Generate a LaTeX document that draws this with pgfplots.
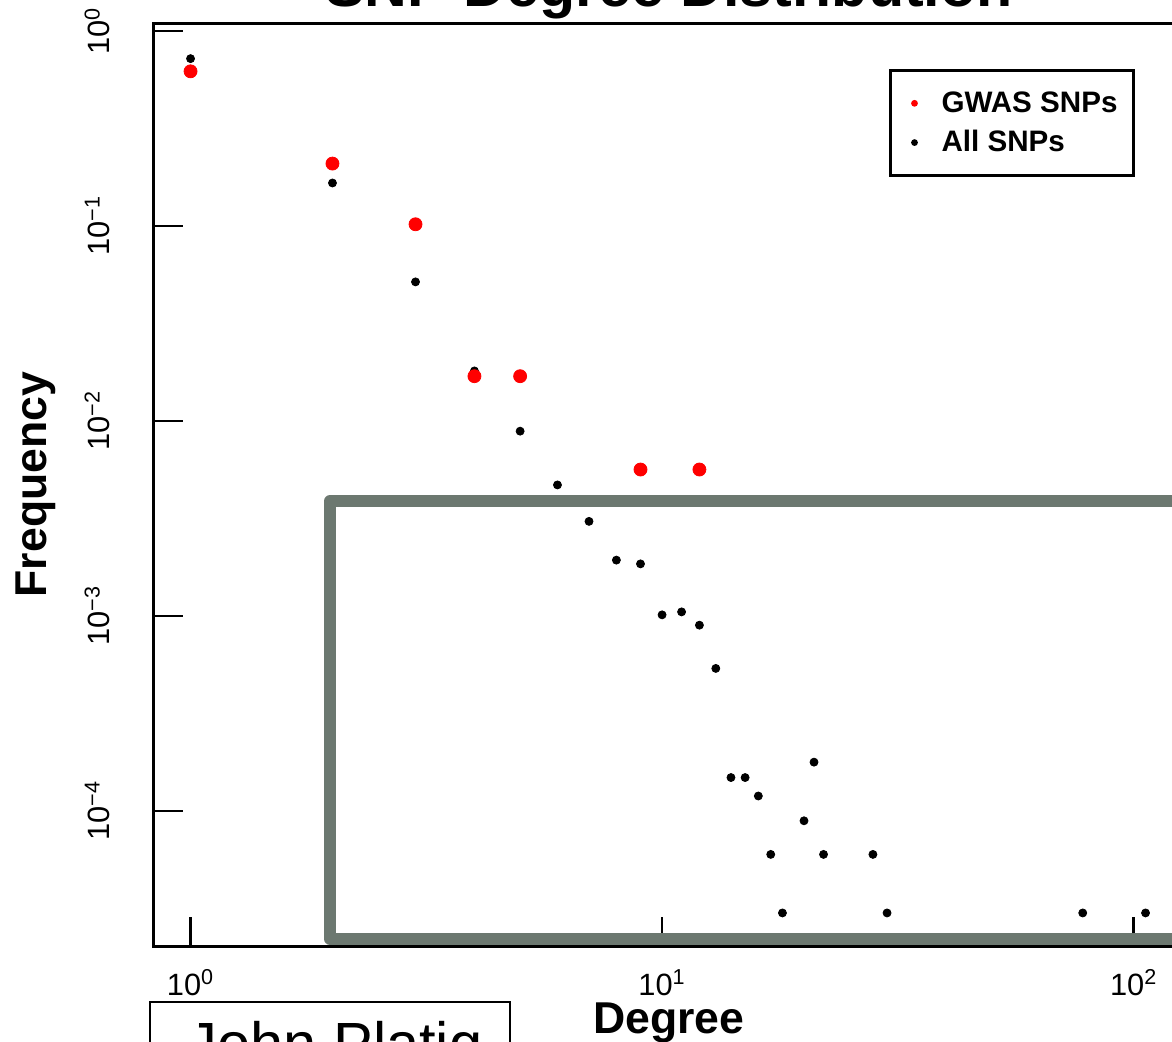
\documentclass[border=0pt]{standalone}
\usepackage{fontspec}
\setmainfont{Liberation Sans}
\usepackage{pgfplots}
\pgfplotsset{compat=1.18}
\definecolor{rectgray}{RGB}{108,120,112}
\newcommand{\tickfont}{\fontsize{15.4}{18}\selectfont}
\newcommand{\labfont}{\fontsize{22.3}{26}\selectfont\bfseries}
\newcommand{\titfont}{\fontsize{29.6}{34}\selectfont\bfseries}
\newcommand{\legfont}{\fontsize{14.8}{17}\selectfont\bfseries}
\begin{document}
\begin{tikzpicture}
\useasboundingbox (0pt,0pt) rectangle (586pt,520.5pt);
\clip (0pt,0pt) rectangle (586pt,520.5pt);
\begin{axis}[
  at={(77pt,47.5pt)}, anchor=south west,
  scale only axis, width=515pt, height=461.5pt,
  xmode=log, ymode=log,
  xmin=0.8366, xmax=127.9, ymin=2.023e-5, ymax=1.098,
  axis line style={line width=1.5pt},
  tick style={line width=1.2pt, black},
  tick align=inside, major tick length=14.5pt,
  xminorticks=false, yminorticks=false,
  xtick pos=bottom, ytick pos=left,
  xtick={1,10,100}, ytick={1,0.1,0.01,0.001,0.0001},
  xticklabels={10\textsuperscript{0},10\textsuperscript{1},10\textsuperscript{2}},
  yticklabels={10\textsuperscript{0},10\textsuperscript{−1},10\textsuperscript{−2},10\textsuperscript{−3},10\textsuperscript{−4}},
  tick label style={font=\tickfont},
  xticklabel style={anchor=base},
  yticklabel style={rotate=90, anchor=base},
  xticklabel shift=24.5pt,
  yticklabel shift=22pt,
  title={SNP Degree Distribution},
  title style={at={(rel axis cs:0.5,1)}, anchor=base, yshift=2.5pt, font=\titfont},
  xlabel={Degree},
  xlabel style={at={(rel axis cs:0.5,0)}, anchor=base, yshift=-43.5pt, font=\labfont},
  ylabel={Frequency},
  ylabel style={at={(rel axis cs:-0.10388,0.5)}, anchor=base, font=\labfont},
  clip=false,
  legend style={at={(rel axis cs:0.7136,0.9502)}, anchor=north west,
    draw=black, line width=1.5pt, inner xsep=8pt, inner ysep=10.5pt,
    /tikz/column sep=0pt, /tikz/row sep=7.6pt,
    cells={anchor=west},
    nodes={inner sep=0pt, font=\legfont}},
]
\addlegendimage{legend image code/.code={\path[draw=none,fill=none] (-4pt,0pt) -- (13.5pt,0pt); \fill[red,draw=none] (0pt,0pt) circle (1.7pt);}}
\addlegendentry{GWAS SNPs}
\addlegendimage{legend image code/.code={\path[draw=none,fill=none] (-4pt,0pt) -- (13.5pt,0pt); \fill[black,draw=none] (0pt,0pt) circle (1.7pt);}}
\addlegendentry{All SNPs}
\addplot[forget plot, only marks, mark=*, mark size=2pt, black, mark options={draw=black, fill=black}]
  table {
x y
1 0.721
2 0.166
3 0.0516
4 0.01803
5 0.00885
6 0.00469
7 0.00305
8 0.00193
9 0.001846
10 0.001011
11 0.001047
12 0.000895
13 0.000537
14 0.000148
15 0.000148
16 0.000119
17 5.97e-5
18 2.99e-5
20 8.88e-5
21 0.0001775
22 5.97e-5
28 5.97e-5
30 2.99e-5
78 2.99e-5
106 2.99e-5
};
\addplot[forget plot, only marks, mark=*, mark size=3.25pt, red, mark options={draw=red, fill=red}]
  table {
x y
1 0.6206
2 0.2087
3 0.1019
4 0.01694
5 0.01694
9 0.005627
12 0.005627
};
\coordinate (RA) at (axis cs:200,0.003870);
\coordinate (RB) at (axis cs:1.976,0.003870);
\coordinate (RC) at (axis cs:1.976,2.204e-5);
\coordinate (RD) at (axis cs:200,2.204e-5);
\end{axis}
\draw[rectgray, line width=6pt, line join=round] (RA) -- (RB) -- (RC) -- (RD);
\draw[line width=1pt] (75pt,-20pt) -- (75pt,19.5pt) -- (255pt,19.5pt) -- (255pt,-20pt);
\node[anchor=base, font=\fontsize{29.8}{34}\selectfont, inner sep=0pt] at (167.5pt,-11.85pt) {John Platig};
\end{tikzpicture}
\end{document}
